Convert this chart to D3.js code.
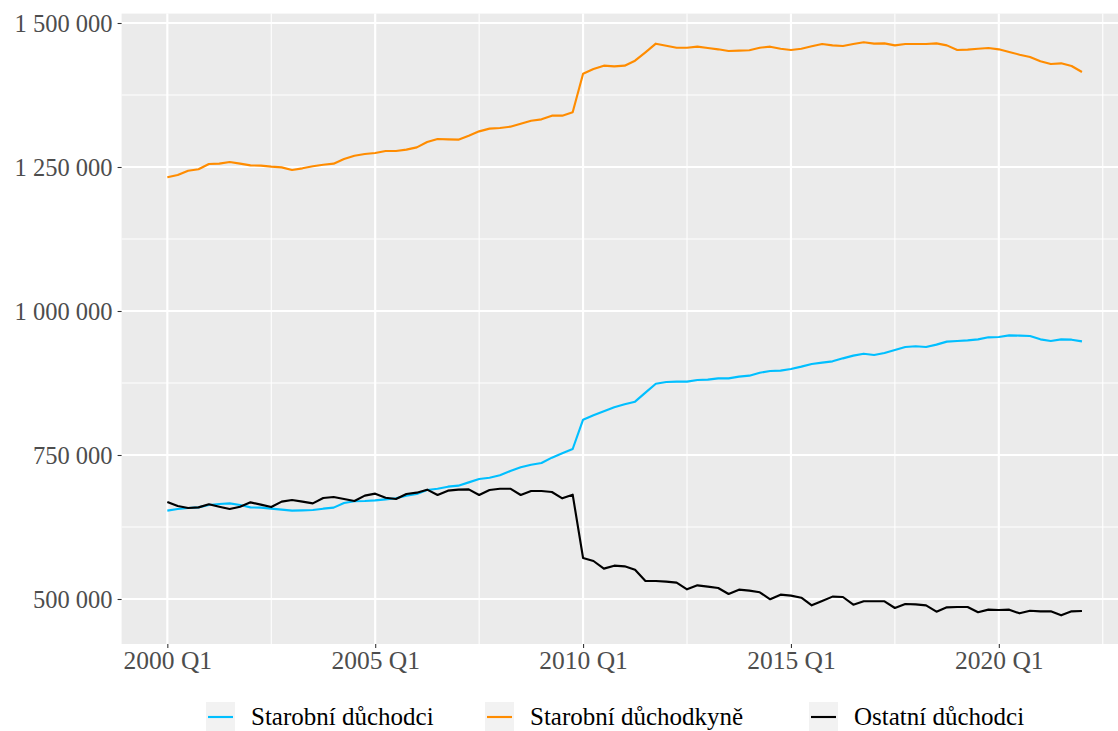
<!DOCTYPE html>
<html>
<head>
<meta charset="utf-8">
<script src="https://cdn.jsdelivr.net/npm/d3@7"></script>
<style>
  html, body { margin: 0; padding: 0; background: #ffffff; }
  svg { display: block; }
  text { font-family: "Liberation Serif", "Times New Roman", serif; }
</style>
</head>
<body>
<svg id="chart" width="1118" height="731"></svg>
<script>
// ---- Data ----
const startYear = 2000;
const nQuarters = 89; // 2000 Q1 .. 2022 Q1
const quarters = [];
for (let i = 0; i < nQuarters; i++) {
  quarters.push((startYear + Math.floor(i / 4)) + " Q" + (i % 4 + 1));
}

const seriesNames = ["Starobní důchodci", "Starobní důchodkyně", "Ostatní důchodci"];
const seriesColors = ["#00BFFF", "#FF8C00", "#000000"];

const starobniDuchodci = [
  653400, 656200, 658000, 659100, 663200, 664900, 666100, 663200, 659100, 658600,
  656800, 655100, 653400, 653900, 654500, 656800, 658600, 666700, 669600, 670100,
  671300, 673000, 674800, 679400, 682300, 689200, 691500, 695000, 696800, 702500,
  708300, 710600, 714700, 722200, 728600, 733200, 736100, 745400, 752900, 760400,
  811300, 818900, 825800, 832800, 838000, 842600, 858200, 873800, 876700, 877300,
  877300, 880200, 880800, 883100, 883100, 886000, 887700, 892900, 895800, 896400,
  899300, 903400, 908000, 910300, 912600, 917800, 922500, 925900, 923600, 927100,
  932300, 937500, 938700, 937500, 941600, 946800, 947900, 949100, 950800, 954300,
  954900, 957700, 957200, 956600, 950800, 947900, 950800, 950200, 947300
];

const starobniDuchodkyne = [
  1232100, 1236100, 1243600, 1246000, 1255200, 1255800, 1258700, 1255800, 1252900, 1252300,
  1250600, 1249400, 1244800, 1247700, 1251200, 1254000, 1255800, 1263900, 1269600, 1272600,
  1274300, 1277800, 1277800, 1280100, 1284100, 1293400, 1298600, 1298000, 1297500, 1304400,
  1311900, 1316600, 1317700, 1320000, 1325200, 1330400, 1332700, 1339100, 1339100, 1344900,
  1412000, 1420100, 1425900, 1424700, 1425900, 1434600, 1449100, 1464100, 1460600, 1457100,
  1457100, 1458900, 1456600, 1454300, 1451400, 1452000, 1452600, 1457100, 1458900, 1455400,
  1453100, 1455400, 1459500, 1463500, 1461200, 1460100, 1463500, 1466500, 1464100, 1464700,
  1461200, 1463500, 1463500, 1463500, 1464700, 1461200, 1453100, 1453700, 1455400, 1456600,
  1454300, 1449700, 1445000, 1441000, 1433500, 1428800, 1430000, 1425300, 1414900
];

const ostatniDuchodci = [
  668400, 661500, 658000, 659100, 664400, 660300, 656200, 660300, 667800, 663800,
  659700, 669000, 671900, 669000, 666100, 675300, 677100, 673600, 670100, 679400,
  682900, 675900, 673600, 682300, 684600, 689800, 680600, 688100, 689800, 690400,
  680600, 689200, 691500, 691500, 680600, 687500, 687500, 685800, 674800, 681100,
  571200, 566000, 552700, 557900, 556700, 550900, 531200, 531200, 530100, 528400,
  516800, 523700, 521400, 519100, 508700, 516200, 514500, 511600, 499500, 507500,
  505800, 502300, 489000, 496500, 504100, 503500, 490200, 496000, 496000, 496000,
  484400, 491300, 490700, 489000, 478000, 485500, 486100, 486100, 476900, 481500,
  480900, 481500, 475100, 479700, 478600, 478600, 471600, 478600, 479200
];

const xTickLabels = ["2000 Q1", "2005 Q1", "2010 Q1", "2015 Q1", "2020 Q1"];
const xMinorLabels = ["2002 Q3", "2007 Q3", "2012 Q3", "2017 Q3", "2022 Q3"];
const yTicks = [500000, 750000, 1000000, 1250000, 1500000];
const yMinorTicks = [625000, 875000, 1125000, 1375000];

// ---- Layout ----
const svg = d3.select("#chart");
const panel = { left: 121.6, right: 1127.7, top: 13.6, bottom: 644 };
const FONT_Y = 24.5;
const FONT_X = 25.5;
const FONT_LEG = 25;

const allQuarterLabels = quarters.concat(["2022 Q2", "2022 Q3"]);
const qIndex = lbl => allQuarterLabels.indexOf(lbl);

const x = d3.scaleLinear()
  .domain([-4.4, nQuarters - 1 + 4.4])
  .range([panel.left, panel.right]);

const y = d3.scaleLinear()
  .domain([500000, 1500000])
  .range([599, 23]);

// panel background
svg.append("rect")
  .attr("x", panel.left).attr("y", panel.top)
  .attr("width", panel.right - panel.left)
  .attr("height", panel.bottom - panel.top)
  .attr("fill", "#EBEBEB");

const grid = svg.append("g");
// minor gridlines
yMinorTicks.forEach(v => {
  grid.append("line")
    .attr("x1", panel.left).attr("x2", panel.right)
    .attr("y1", y(v)).attr("y2", y(v))
    .attr("stroke", "#ffffff").attr("stroke-width", 1.07);
});
xMinorLabels.forEach(l => {
  const xv = x(qIndex(l));
  grid.append("line")
    .attr("x1", xv).attr("x2", xv)
    .attr("y1", panel.top).attr("y2", panel.bottom)
    .attr("stroke", "#ffffff").attr("stroke-width", 1.07);
});
// major gridlines
yTicks.forEach(v => {
  grid.append("line")
    .attr("x1", panel.left).attr("x2", panel.right)
    .attr("y1", y(v)).attr("y2", y(v))
    .attr("stroke", "#ffffff").attr("stroke-width", 2.13);
});
xTickLabels.forEach(l => {
  const xv = x(qIndex(l));
  grid.append("line")
    .attr("x1", xv).attr("x2", xv)
    .attr("y1", panel.top).attr("y2", panel.bottom)
    .attr("stroke", "#ffffff").attr("stroke-width", 2.13);
});

// lines
const seriesData = [starobniDuchodci, starobniDuchodkyne, ostatniDuchodci];
const line = d3.line()
  .x((d, i) => x(i))
  .y(d => y(d));

seriesData.forEach((vals, k) => {
  svg.append("path")
    .datum(vals)
    .attr("d", line)
    .attr("fill", "none")
    .attr("stroke", seriesColors[k])
    .attr("stroke-width", 2.13)
    .attr("stroke-linejoin", "round")
    .attr("stroke-linecap", "butt");
});

// axes
const locale = d3.formatLocale({ decimal: ",", thousands: " ", grouping: [3], currency: ["", " Kč"] });
const fmt = locale.format(",d");

const yAxis = d3.axisLeft(y)
  .tickValues(yTicks)
  .tickFormat(fmt)
  .tickSize(4)
  .tickPadding(5);

const gy = svg.append("g")
  .attr("transform", `translate(${panel.left},0)`)
  .call(yAxis);
gy.select(".domain").remove();
gy.selectAll(".tick line").attr("stroke", "#333333").attr("stroke-width", 1.07);
gy.selectAll(".tick text")
  .attr("fill", "#4D4D4D")
  .style("font-family", "'Liberation Serif', serif")
  .style("font-size", FONT_Y + "px")
  .attr("dy", "0.34em");

const xAxis = d3.axisBottom(x)
  .tickValues(xTickLabels.map(qIndex))
  .tickFormat(i => allQuarterLabels[i])
  .tickSize(4)
  .tickPadding(4);

const gx = svg.append("g")
  .attr("transform", `translate(0,${panel.bottom})`)
  .call(xAxis);
gx.select(".domain").remove();
gx.selectAll(".tick line").attr("stroke", "#333333").attr("stroke-width", 1.07);
gx.selectAll(".tick text")
  .attr("fill", "#4D4D4D")
  .style("font-family", "'Liberation Serif', serif")
  .style("font-size", FONT_X + "px")
  .attr("dy", "0.68em");

// legend
const legendBoxX = [206, 485, 809];
const legendCy = 716;
const legend = svg.append("g");
seriesNames.forEach((name, k) => {
  const bx = legendBoxX[k];
  legend.append("rect")
    .attr("x", bx).attr("y", legendCy - 14)
    .attr("width", 29).attr("height", 29)
    .attr("fill", "#F2F2F2");
  legend.append("line")
    .attr("x1", bx + 2).attr("x2", bx + 27)
    .attr("y1", legendCy + 1).attr("y2", legendCy + 1)
    .attr("stroke", seriesColors[k])
    .attr("stroke-width", 2.13);
  legend.append("text")
    .attr("x", bx + 45)
    .attr("y", legendCy)
    .attr("dy", "0.34em")
    .attr("fill", "#000000")
    .style("font-size", FONT_LEG + "px")
    .text(name);
});
</script>
</body>
</html>
